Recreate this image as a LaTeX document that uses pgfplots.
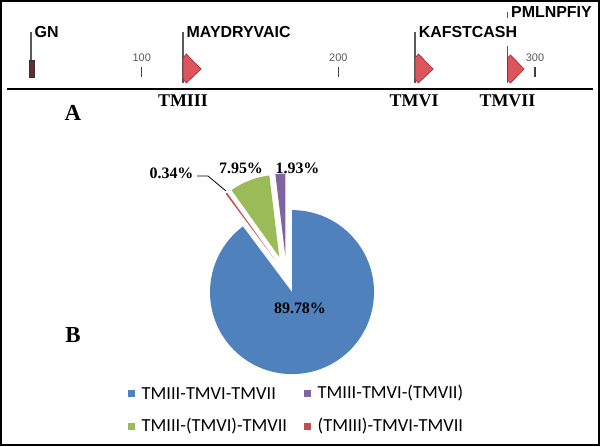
\documentclass[border=0pt]{standalone}
\usepackage{pgfplots}
\pgfplotsset{compat=1.18}
\usepackage{pgfplotstable}
\usepackage{fontspec}
\setmainfont{Liberation Serif}
\newfontfamily\arial{Liberation Sans}
\newfontfamily\calibri{Carlito}

\definecolor{pieblue}{RGB}{79,129,189}
\definecolor{piered}{RGB}{192,80,77}
\definecolor{piegreen}{RGB}{155,187,89}
\definecolor{piepurple}{RGB}{128,100,162}
\definecolor{arrowred}{RGB}{222,84,92}
\definecolor{arrowedge}{RGB}{150,40,45}
\definecolor{gnbar}{RGB}{100,45,45}
\colorlet{slice0}{pieblue}
\colorlet{slice1}{piered}
\colorlet{slice2}{piegreen}
\colorlet{slice3}{piepurple}

% pie slices, clockwise from 12 o'clock (explode in px)
\pgfplotstableread{
value explode
89.78 17.5
0.34  20
7.95  20
1.93  20
}\piedata

\begin{document}
\begin{tikzpicture}
% ---- panel A: residue positions along the sequence
\begin{axis}[
  at={(0,0)}, anchor=south west,
  width=600bp, height=446bp, scale only axis,
  xmin=27.94, xmax=333.05, ymin=0, ymax=446, y dir=reverse,
  hide axis, clip=false,
]
% ruler ticks
\addplot[only marks, mark=|, mark size=5bp, mark options={line width=1.5bp, draw=black!75}]
  coordinates {(100,72) (200,72) (300,72)};
\node[font=\arial\fontsize{11}{11}\selectfont, text=black!65] at (axis cs:100,58) {100};
\node[font=\arial\fontsize{11}{11}\selectfont, text=black!65] at (axis cs:200,58) {200};
\node[font=\arial\fontsize{11}{11}\selectfont, text=black!65] at (axis cs:300,58) {300};

% motif stems
\addplot[black!65, line width=1.6bp] coordinates {(43.7,32) (43.7,77)};
\addplot[black!65, line width=1.4bp] coordinates {(121,32) (121,83)};
\addplot[black!65, line width=1.4bp] coordinates {(239,32) (239,83)};
\addplot[black!65, line width=1.4bp] coordinates {(286,12) (286,83)};

% GN bar
\addplot[draw=black!80, fill=gnbar, line width=0.6bp]
  coordinates {(43.0,60) (45.6,60) (45.6,77.3) (43.0,77.3)} -- cycle;

% TM arrows
\addplot[draw=arrowedge, fill=arrowred, line width=0.6bp]
  coordinates {(121,58) (122.7,54) (130.2,69) (122.7,83) (121,79)} -- cycle;
\addplot[draw=arrowedge, fill=arrowred, line width=0.6bp]
  coordinates {(239,58) (240.7,54) (248.2,69) (240.7,83) (239,79)} -- cycle;
\addplot[draw=arrowedge, fill=arrowred, line width=0.6bp]
  coordinates {(286,58) (287.5,55) (294.5,69) (287.5,83) (286,80)} -- cycle;

% motif labels
\tikzset{motif/.style={anchor=west, fill=white, inner xsep=0.5bp, inner ysep=8bp,
  xshift=3bp, font=\arial\bfseries\fontsize{16}{16}\selectfont}}
\node[motif] at (axis cs:43.7,32) {GN};
\node[motif] at (axis cs:121,32) {MAYDRYVAIC};
\node[motif] at (axis cs:239,32) {KAFSTCASH};
\node[motif, inner ysep=2bp] at (axis cs:286,12) {PMLNPFIY};

% TM names
\tikzset{tm/.style={font=\bfseries\fontsize{18}{18}\selectfont}}
\node[tm] at (axis cs:121,101) {TMIII};
\node[tm] at (axis cs:238.5,101) {TMVI};
\node[tm] at (axis cs:286,101) {TMVII};
\end{axis}

% ---- page: frame, letters, pie, legend (px coordinates)
\begin{axis}[
  at={(0,0)}, anchor=south west,
  width=600bp, height=446bp, scale only axis,
  xmin=0, xmax=600, ymin=0, ymax=446, y dir=reverse,
  hide axis, clip=false,
]
\draw[black, line width=2bp] (axis cs:1,1) rectangle (axis cs:599,445);
\draw[black, line width=2.3bp] (axis cs:7,89.3) -- (axis cs:593,89.3);

\node[font=\bfseries\fontsize{23}{23}\selectfont] at (axis cs:73,113) {A};
\node[font=\bfseries\fontsize{23}{23}\selectfont] at (axis cs:73,335) {B};

% pie
\pgfmathsetmacro\cum{0}
\pgfplotsforeachungrouped \i in {0,1,2,3}{%
  \pgfplotstablegetelem{\i}{value}\of\piedata \let\val\pgfplotsretval
  \pgfplotstablegetelem{\i}{explode}\of\piedata \let\ex\pgfplotsretval
  \pgfmathsetmacro\aA{90-3.6*\cum}
  \pgfmathsetmacro\aB{90-3.6*(\cum+\val)}
  \pgfmathsetmacro\am{(\aA+\aB)/2}
  \pgfmathsetmacro\cx{286.5+\ex*cos(\am)}
  \pgfmathsetmacro\cy{275.5-\ex*sin(\am)}
  \pgfmathsetmacro\cum{\cum+\val}
  \edef\slice{\noexpand\fill[slice\i] (axis cs:\cx,\cy) -- ++(\aA:82bp)
    arc[start angle=\aA, end angle=\aB, radius=82bp] -- cycle;}
  \slice
}

% leader for the small slice
\draw[black, line width=0.8bp] (axis cs:197,176) -- (axis cs:208,176) -- (axis cs:226,191);

\tikzset{pct/.style={font=\bfseries\fontsize{16}{16}\selectfont}}
\node[pct] at (axis cs:300,308) {89.78\%};
\node[pct] at (axis cs:171.5,173) {0.34\%};
\node[pct] at (axis cs:241,168) {7.95\%};
\node[pct] at (axis cs:297.5,168) {1.93\%};

% legend
\tikzset{leg/.style={anchor=west, inner sep=0pt, font=\calibri\fontsize{18.5}{18.5}\selectfont}}
\fill[pieblue]   (axis cs:128,390) rectangle (axis cs:135,397);
\fill[piepurple] (axis cs:304,390) rectangle (axis cs:311,397);
\fill[piegreen]  (axis cs:128,422.5) rectangle (axis cs:135,429.5);
\fill[piered]    (axis cs:304,422.5) rectangle (axis cs:311,429.5);
\node[leg] at (axis cs:141.5,393.5) {TMIII-TMVI-TMVII};
\node[leg] at (axis cs:317.5,393.5) {TMIII-TMVI-(TMVII)};
\node[leg] at (axis cs:141.5,426) {TMIII-(TMVI)-TMVII};
\node[leg] at (axis cs:317.5,426) {(TMIII)-TMVI-TMVII};
\end{axis}
\end{tikzpicture}
\end{document}
